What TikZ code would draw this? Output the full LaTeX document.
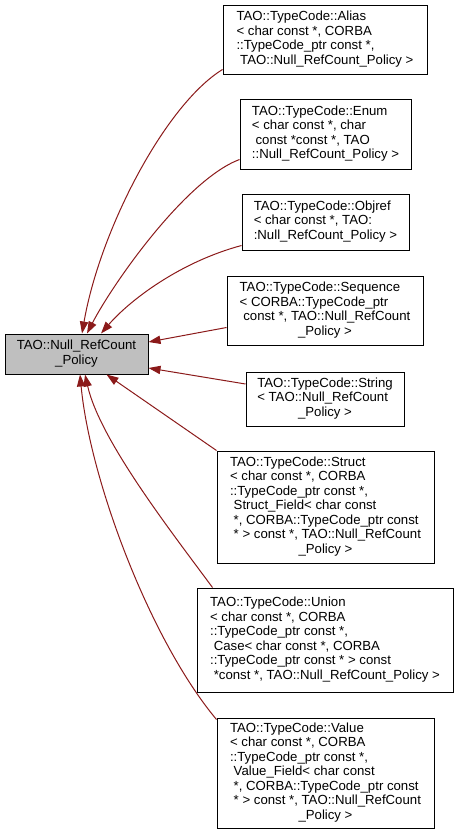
\documentclass[tikz,border=0pt]{standalone}
\usepackage{fontspec}
\setmainfont{Liberation Sans}
\usetikzlibrary{arrows.meta,calc}
\definecolor{edgered}{HTML}{8B1A1A}
\definecolor{basegray}{HTML}{BFBFBF}
\newcommand{\lastln}[1]{\multicolumn{1}{@{}c@{}}{#1}}
\tikzset{
  cls/.style={draw=black, line width=0.75pt, fill=white, inner sep=0pt,
    font=\fontsize{9.9pt}{10.9pt}\selectfont},
  basecls/.style={cls, fill=basegray},
  edge/.style={draw=edgered, line width=0.75pt,
    {Triangle[length=9pt,width=6.2pt]}-}
}
\begin{document}
\begin{tikzpicture}[x=0.75pt,y=-0.75pt]
\useasboundingbox (0,0) rectangle (459,835);

\node[basecls, minimum width=143*0.75pt, minimum height=40*0.75pt] (base) at (76.5,354)
 {\begin{tabular}{@{}l@{}}TAO::Null\_RefCount\\\lastln{\_Policy}\end{tabular}};

\node[cls, minimum width=204*0.75pt, minimum height=69*0.75pt] (alias) at (325,39.5)
 {\begin{tabular}{@{}l@{}}TAO::TypeCode::Alias\\< char const *, CORBA\\::TypeCode\_ptr const *,\\\lastln{\ TAO::Null\_RefCount\_Policy >}\end{tabular}};

\node[cls, minimum width=171*0.75pt, minimum height=70*0.75pt] (enum) at (325.5,134)
 {\begin{tabular}{@{}l@{}}TAO::TypeCode::Enum\\< char const *, char\\\ const *const *, TAO\\\lastln{::Null\_RefCount\_Policy >}\end{tabular}};

\node[cls, minimum width=167*0.75pt, minimum height=56*0.75pt] (objref) at (325.5,222)
 {\begin{tabular}{@{}l@{}}TAO::TypeCode::Objref\\< char const *, TAO:\\\lastln{:Null\_RefCount\_Policy >}\end{tabular}};

\node[cls, minimum width=196*0.75pt, minimum height=69*0.75pt] (sequence) at (325,310.5)
 {\begin{tabular}{@{}l@{}}TAO::TypeCode::Sequence\\< CORBA::TypeCode\_ptr\\\ const *, TAO::Null\_RefCount\\\lastln{\_Policy >}\end{tabular}};

\node[cls, minimum width=158*0.75pt, minimum height=54*0.75pt] (string) at (325,399)
 {\begin{tabular}{@{}l@{}}TAO::TypeCode::String\\< TAO::Null\_RefCount\\\lastln{\_Policy >}\end{tabular}};

\node[cls, minimum width=217*0.75pt, minimum height=112*0.75pt] (struct) at (325.5,507)
 {\begin{tabular}{@{}l@{}}TAO::TypeCode::Struct\\< char const *, CORBA\\::TypeCode\_ptr const *,\\\ Struct\_Field< char const\\\ *, CORBA::TypeCode\_ptr const\\\ * > const *, TAO::Null\_RefCount\\\lastln{\_Policy >}\end{tabular}};

\node[cls, minimum width=256*0.75pt, minimum height=104*0.75pt] (union) at (325,640)
 {\begin{tabular}{@{}l@{}}TAO::TypeCode::Union\\< char const *, CORBA\\::TypeCode\_ptr const *,\\\ Case< char const *, CORBA\\::TypeCode\_ptr const * > const\\\lastln{\ *const *, TAO::Null\_RefCount\_Policy >}\end{tabular}};

\node[cls, minimum width=217*0.75pt, minimum height=110*0.75pt] (value) at (325.5,773)
 {\begin{tabular}{@{}l@{}}TAO::TypeCode::Value\\< char const *, CORBA\\::TypeCode\_ptr const *,\\\ Value\_Field< char const\\\ *, CORBA::TypeCode\_ptr const\\\ * > const *, TAO::Null\_RefCount\\\lastln{\_Policy >}\end{tabular}};

% connectors (arrow at base)
\draw[edge] ($(base.north)+(5.5,0)$) .. controls (100,230) and (165,105) .. ($(alias.south west)+(0,-5)$);
\draw[edge] ($(base.north)+(10.5,0)$) .. controls (112,285) and (185,180) .. ($(enum.south west)+(0,-10)$);
\draw[edge] ($(base.north)+(24.5,0)$) .. controls (130,300) and (180,262) .. ($(objref.south west)+(0,-5)$);
\draw[edge] ($(base.east)+(0,-12)$) -- ($(sequence.south west)+(0,-18)$);
\draw[edge] ($(base.east)+(0,14)$) -- ($(string.west)+(0,-15)$);
\draw[edge] ($(base.south)+(30,0)$) -- (struct.north west);
\draw[edge] ($(base.south)+(8.5,0)$) .. controls (100,440) and (170,530) .. ($(union.north west)+(16,0)$);
\draw[edge] ($(base.south)+(3.5,0)$) .. controls (90,480) and (150,640) .. ($(value.north west)+(0,2)$);
\end{tikzpicture}
\end{document}
